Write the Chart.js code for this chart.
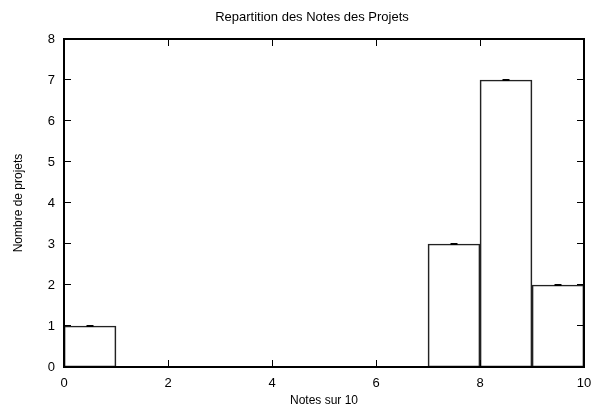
<!DOCTYPE html>
<html>
<head>
<meta charset="utf-8">
<script src="https://cdn.jsdelivr.net/npm/chart.js@4.4.0/dist/chart.umd.min.js"></script>
<style>
  html, body { margin: 0; padding: 0; background: #fff; }
  #wrap { width: 597px; height: 414px; }
</style>
</head>
<body>
<div id="wrap"><canvas id="chart"></canvas></div>
<script>
// histogram bins (left edge of each bin) and number of projects
const binStarts = [0, 1, 2, 3, 4, 5, 6, 7, 8, 9];
const counts = [1, 0, 0, 0, 0, 0, 0, 3, 7, 2];
const xTicks = [0, 2, 4, 6, 8, 10];
const yTicks = [0, 1, 2, 3, 4, 5, 6, 7, 8];

const FONT = 'Liberation Sans, Arial, Helvetica, sans-serif';

const points = binStarts.map((b, i) => ({ x: b + 0.5, y: counts[i] }));

// frame + inward ticks on all four sides, like gnuplot
const framePlugin = {
    id: 'frame',
    afterDatasetsDraw(chart) {
        const { ctx, chartArea: a, scales } = chart;
        ctx.save();
        ctx.strokeStyle = '#000';
        ctx.lineWidth = 1;
        ctx.beginPath();
        xTicks.forEach(v => {
            const px = Math.round(scales.x.getPixelForValue(v)) + 0.5;
            ctx.moveTo(px, a.bottom); ctx.lineTo(px, a.bottom - 7);
            ctx.moveTo(px, a.top); ctx.lineTo(px, a.top + 7);
        });
        yTicks.forEach(v => {
            const py = Math.round(scales.y.getPixelForValue(v)) - 0.5;
            ctx.moveTo(a.left, py); ctx.lineTo(a.left + 7, py);
            ctx.moveTo(a.right, py); ctx.lineTo(a.right - 7, py);
        });
        ctx.stroke();
        ctx.lineWidth = 2;
        ctx.strokeRect(Math.round(a.left), Math.round(a.top),
            Math.round(a.right - a.left), Math.round(a.bottom - a.top));
        ctx.restore();
    }
};

new Chart(document.getElementById('chart'), {
    type: 'bar',
    data: {
        datasets: [{
            type: 'bar',
            data: points,
            backgroundColor: 'rgba(255,255,255,0)',
            borderColor: '#222',
            borderWidth: 1,
            borderSkipped: false,
            barPercentage: 1,
            categoryPercentage: 1,
            order: 2
        }, {
            type: 'scatter',
            data: points.filter(p => p.y > 0),
            pointStyle: 'line',
            radius: 3.5,
            borderColor: '#000',
            borderWidth: 2,
            order: 1
        }]
    },
    options: {
        responsive: true,
        maintainAspectRatio: false,
        animation: false,
        layout: { padding: { top: 0, right: 13, left: 40, bottom: 0 } },
        plugins: {
            legend: { display: false },
            tooltip: { enabled: false },
            title: {
                display: true,
                text: 'Repartition des Notes des Projets',
                color: '#000',
                font: { family: FONT, size: 13, weight: 'normal', lineHeight: '16px' },
                padding: { top: 9, bottom: 14 }
            }
        },
        scales: {
            x: {
                type: 'linear',
                min: 0, max: 10,
                offset: false,
                afterBuildTicks: s => { s.ticks = xTicks.map(v => ({ value: v })); },
                afterFit: s => { s.height = 47; s.paddingLeft = 0; s.paddingRight = 13; },
                grid: { display: false, drawTicks: false },
                border: { display: false },
                ticks: { color: '#000', padding: 9, maxRotation: 0, font: { family: FONT, size: 13 } },
                title: {
                    display: true, text: 'Notes sur 10', color: '#000',
                    font: { family: FONT, size: 12 }, padding: { top: 0, bottom: 6 }
                }
            },
            y: {
                min: 0, max: 8,
                afterBuildTicks: s => { s.ticks = yTicks.map(v => ({ value: v })); },
                afterFit: s => { s.width = 24; },
                grid: { display: false, drawTicks: false },
                border: { display: false },
                ticks: { color: '#000', padding: 9, font: { family: FONT, size: 13 } },
                title: {
                    display: true, text: 'Nombre de projets', color: '#000',
                    font: { family: FONT, size: 12 }, padding: { top: -29, bottom: 0 }
                }
            }
        }
    },
    plugins: [framePlugin]
});
</script>
</body>
</html>
